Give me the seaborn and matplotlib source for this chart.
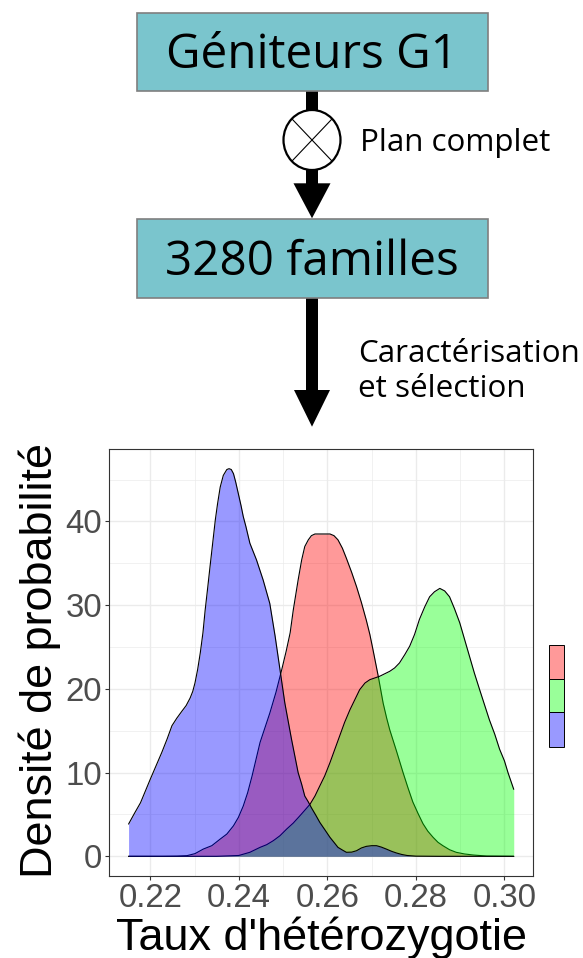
import numpy as np
import pandas as pd
import matplotlib
matplotlib.use("Agg")
import matplotlib.pyplot as plt
import seaborn as sns
from matplotlib.patches import Rectangle, Polygon, Ellipse

# ---------------- data ----------------
groups = ["Groupe 1", "Groupe 2", "Groupe 3"]
group_colors = ["#FF0000", "#00FF00", "#0000FF"]

red_x = [0.2151, 0.2230, 0.2260, 0.2283, 0.2301, 0.2320, 0.2339, 0.2358, 0.2373,
         0.2388, 0.2399, 0.2410, 0.2420, 0.2430, 0.2448, 0.2470, 0.2484, 0.2497,
         0.2507, 0.2516, 0.2523, 0.2534, 0.2542, 0.2549, 0.2557, 0.2564, 0.2572,
         0.2583, 0.2595, 0.2606, 0.2615, 0.2624, 0.2634, 0.2643, 0.2655, 0.2666,
         0.2677, 0.2688, 0.2696, 0.2703, 0.2715, 0.2726, 0.2734, 0.2741, 0.2756,
         0.2771, 0.2782, 0.2793, 0.2805, 0.2816, 0.2827, 0.2839, 0.2850, 0.2861,
         0.2876, 0.2891, 0.2910, 0.2929, 0.2960, 0.3021]
red_y = [0.0, 0.0, 0.02, 0.08, 0.32, 0.87, 1.27, 2.06, 2.66,
         3.65, 4.64, 6.0, 7.6, 9.6, 13.6, 17.1, 19.6, 22.3,
         24.5, 26.7, 29.4, 33.0, 35.4, 37.0, 37.8, 38.3, 38.5,
         38.5, 38.5, 38.5, 38.3, 37.8, 36.8, 35.6, 33.9, 32.2,
         30.3, 28.2, 26.5, 24.7, 21.5, 18.3, 16.5, 15.1, 12.6,
         10.0, 8.2, 6.5, 5.1, 3.9, 3.0, 2.26, 1.67, 1.27,
         0.79, 0.48, 0.28, 0.16, 0.03, 0.0]

green_x = [0.2151, 0.2350, 0.2400, 0.2425, 0.2448, 0.2463, 0.2478, 0.2493, 0.2508,
           0.2523, 0.2538, 0.2549, 0.2561, 0.2572, 0.2583, 0.2594, 0.2606, 0.2617,
           0.2628, 0.2639, 0.2651, 0.2662, 0.2673, 0.2685, 0.2696, 0.2718, 0.2741,
           0.2752, 0.2763, 0.2775, 0.2786, 0.2797, 0.2808, 0.2820, 0.2831, 0.2842,
           0.2854, 0.2865, 0.2876, 0.2887, 0.2899, 0.2910, 0.2921, 0.2932, 0.2944,
           0.2955, 0.2966, 0.2978, 0.2989, 0.3000, 0.3008, 0.3021]
green_y = [0.0, 0.0, 0.1, 0.48, 1.07, 1.39, 1.87, 2.46, 3.25,
           3.97, 4.84, 5.5, 6.23, 7.2, 8.41, 9.6, 11.2, 12.8,
           14.4, 16.0, 17.5, 18.7, 19.9, 20.7, 21.1, 21.5, 22.1,
           22.5, 23.1, 24.1, 25.1, 26.5, 28.3, 29.8, 31.0, 31.6,
           32.0, 31.7, 31.0, 29.6, 27.9, 25.9, 23.9, 21.9, 19.9,
           18.1, 16.3, 14.6, 12.8, 11.4, 10.0, 8.0]

blue_x = [0.2151, 0.2164, 0.2178, 0.2189, 0.2200, 0.2213, 0.2226, 0.2238, 0.2249,
          0.2260, 0.2271, 0.2281, 0.2290, 0.2296, 0.2301, 0.2307, 0.2313, 0.2319,
          0.2324, 0.2330, 0.2335, 0.2341, 0.2347, 0.2352, 0.2358, 0.2365, 0.2373,
          0.2378, 0.2383, 0.2388, 0.2393, 0.2399, 0.2405, 0.2410, 0.2416, 0.2425,
          0.2440, 0.2455, 0.2470, 0.2482, 0.2493, 0.2504, 0.2519, 0.2534, 0.2542,
          0.2549, 0.2557, 0.2564, 0.2574, 0.2583, 0.2594, 0.2606, 0.2615, 0.2624,
          0.2634, 0.2643, 0.2655, 0.2666, 0.2677, 0.2688, 0.2700, 0.2711, 0.2722,
          0.2733, 0.2745, 0.2756, 0.2768, 0.2780, 0.2800, 0.2850, 0.3021]
blue_y = [3.85, 5.1, 6.4, 7.8, 9.2, 10.8, 12.4, 14.0, 15.6,
          16.5, 17.3, 18.0, 18.9, 19.7, 20.7, 22.3, 24.3, 26.7,
          29.4, 32.2, 34.6, 37.4, 40.2, 42.1, 44.1, 45.5, 46.2,
          46.3, 46.2, 45.7, 44.7, 43.3, 41.9, 40.6, 39.4, 37.4,
          35.4, 33.0, 30.2, 26.3, 22.3, 18.3, 14.0, 10.0, 8.6,
          7.2, 6.5, 5.8, 4.9, 4.05, 3.2, 2.26, 1.67, 1.07,
          0.75, 0.48, 0.5, 0.67, 1.0, 1.19, 1.27, 1.27, 1.1,
          0.87, 0.6, 0.4, 0.22, 0.1, 0.02, 0.0, 0.0]

x_ticks = [0.22, 0.24, 0.26, 0.28, 0.30]
x_tick_labels = ["0.22", "0.24", "0.26", "0.28", "0.30"]
y_ticks = [0, 10, 20, 30, 40]
y_tick_labels = ["0", "10", "20", "30", "40"]

box_labels = ["Géniteurs G1", "3280 familles"]
step_labels = ["Plan complet", "Caractérisation\net sélection"]

# long table for seaborn
df = pd.concat([
    pd.DataFrame({"x": red_x, "y": red_y, "groupe": groups[0]}),
    pd.DataFrame({"x": green_x, "y": green_y, "groupe": groups[1]}),
    pd.DataFrame({"x": blue_x, "y": blue_y, "groupe": groups[2]}),
], ignore_index=True)

# ---------------- figure ----------------
sns.set_theme(style="whitegrid")
plt.rcParams['font.family'] = ['Liberation Sans', 'DejaVu Sans']

W, H = 583, 958
fig = plt.figure(figsize=(W / 100, H / 100), dpi=100)
fig.patch.set_facecolor("white")

# overlay in pixel coordinates for the flow diagram
ov = fig.add_axes([0, 0, 1, 1])
ov.set_xlim(0, W)
ov.set_ylim(H, 0)
ov.axis("off")

# main density axes
L, R, T, B = 109.3, 533.0, 449.3, 875.7
ax = fig.add_axes([L / W, (H - B) / H, (R - L) / W, (B - T) / H])
ax.set_facecolor("white")

for i, g in enumerate(groups):
    sub = df[df["groupe"] == g]
    ax.fill_between(sub["x"], sub["y"], 0, color=group_colors[i], alpha=0.4,
                    lw=0, zorder=2 + i)
    sns.lineplot(data=sub, x="x", y="y", color="black", lw=0.8, ax=ax,
                 estimator=None, sort=False, zorder=2.5 + i)

xmin, xmax = df["x"].min(), df["x"].max()
ymax = df["y"].max()
xr = xmax - xmin
ax.set_xlim(xmin - 0.05 * xr, xmax + 0.05 * xr)
ax.set_ylim(-0.05 * ymax, 1.05 * ymax)

ax.set_xticks(x_ticks)
ax.set_xticklabels(x_tick_labels)
ax.set_yticks(y_ticks)
ax.set_yticklabels(y_tick_labels)
ax.set_xticks([0.23, 0.25, 0.27, 0.29], minor=True)
ax.set_yticks([5, 15, 25, 35, 45], minor=True)
ax.set_axisbelow(True)
ax.grid(which="major", color="#EBEBEB", lw=1.0)
ax.grid(which="minor", color="#EBEBEB", lw=0.5)
ax.tick_params(which="major", length=3.0, width=0.8, color="#333333",
               labelcolor="#4D4D4D", labelsize=23.8, pad=2,
               bottom=True, left=True)
ax.tick_params(which="minor", length=0)
for s in ax.spines.values():
    s.set_visible(True)
    s.set_color("#333333")
    s.set_linewidth(0.8)

ax.set_xlabel("Taux d'hétérozygotie", fontsize=32.4, color="black", va="baseline")
ax.xaxis.set_label_coords(321.7, 950, transform=ov.transData)
ax.set_ylabel("Densité de probabilité", fontsize=32.4, color="black",
              va="baseline", ha="center", rotation=90)
ax.yaxis.label.set_rotation_mode("anchor")
ax.yaxis.set_label_coords(51.7, 661, transform=ov.transData)

# legend keys (labels fall outside the picture)
key_top = [645.0, 679.0, 712.3]
key_bot = [679.0, 712.3, 746.7]
for i in range(3):
    ov.add_patch(Rectangle((549.3, key_top[i]), 15.0, key_bot[i] - key_top[i],
                           facecolor=group_colors[i], alpha=0.4, lw=0))
    ov.add_patch(Rectangle((549.3, key_top[i]), 15.0, key_bot[i] - key_top[i],
                           facecolor="none", edgecolor="black", lw=0.7))

# ---------------- flow diagram ----------------
flow_font = ["Open Sans", "DejaVu Sans"]
teal = "#7AC5CD"
boxes = [(137.0, 13.0, 488.0, 90.7), (137.0, 219.0, 488.0, 297.7)]
for (x0, y0, x1, y1), lab, by in zip(boxes, box_labels, [68.0, 275.0]):
    ov.add_patch(Rectangle((x0, y0), x1 - x0, y1 - y0, facecolor=teal,
                           edgecolor="#7F7F7F", lw=1.2, zorder=2))
    ov.text((x0 + x1) / 2 - 1, by, lab, ha="center", va="baseline",
            fontsize=34.3, family=flow_font, color="black", zorder=3)

cx = 312.0
# first arrow with crossing circle
ov.add_patch(Rectangle((cx - 5.8, 90.7), 11.6, 20, facecolor="black", lw=0, zorder=1))
ov.add_patch(Rectangle((cx - 5.8, 168), 11.6, 17, facecolor="black", lw=0, zorder=1))
ov.add_patch(Polygon([(cx - 18.5, 183.3), (cx + 18.5, 183.3), (cx, 218.3)],
                     closed=True, facecolor="black", lw=0, zorder=1))
ccy, rx, ry = 140.0, 28.5, 30.0
ov.add_patch(Ellipse((cx, ccy), 2 * rx, 2 * ry, facecolor="white",
                     edgecolor="black", lw=1.6, zorder=2))
d = 0.7071
ov.plot([cx - rx * d, cx + rx * d], [ccy - ry * d, ccy + ry * d], color="black", lw=0.8, zorder=3)
ov.plot([cx - rx * d, cx + rx * d], [ccy + ry * d, ccy - ry * d], color="black", lw=0.8, zorder=3)
ov.text(360.0, 150.7, step_labels[0], ha="left", va="baseline",
        fontsize=22.6, family=flow_font, color="black")

# second arrow
ov.add_patch(Rectangle((cx - 5.8, 297.7), 11.6, 95, facecolor="black", lw=0, zorder=1))
ov.add_patch(Polygon([(cx - 18.0, 390.0), (cx + 18.0, 390.0), (cx, 426.7)],
                     closed=True, facecolor="black", lw=0, zorder=1))
l1, l2 = step_labels[1].split("\n")
ov.text(358.0, 361.7, l1, ha="left", va="baseline", fontsize=22.6,
        family=flow_font, color="black")
ov.text(358.0, 396.7, l2, ha="left", va="baseline", fontsize=22.6,
        family=flow_font, color="black")

fig.savefig("out.png", dpi=100, facecolor="white")
